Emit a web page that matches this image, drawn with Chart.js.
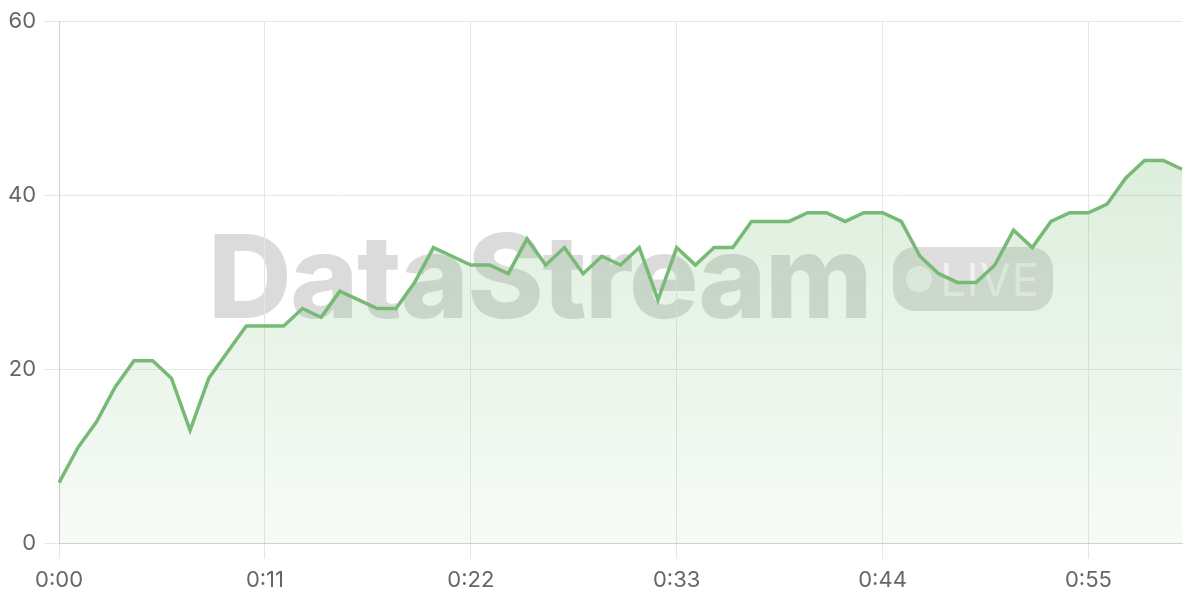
<!DOCTYPE html>
<html>
<head>
<meta charset="utf-8">
<script src="https://cdn.jsdelivr.net/npm/chart.js@4/dist/chart.umd.min.js"></script>
<style>
  html, body { margin: 0; padding: 0; background: #fff; }
  #wrap { position: relative; width: 1200px; height: 600px; }
  #mark { position: absolute; left: 208px; top: 218px; display: flex; align-items: center; pointer-events: none; }
  #mark .name { font-family: Inter, "Liberation Sans", sans-serif; font-weight: 800; font-size: 116px; letter-spacing: -1.5px; color: rgba(0,0,0,0.14); line-height: 116px; }
  #mark .pill { margin-left: 22px; width: 160px; height: 64px; border-radius: 22px; background: rgba(0,0,0,0.13); display: flex; align-items: center; box-sizing: border-box; padding-left: 13px; margin-top: 6px; }
  #mark .dot { width: 26px; height: 26px; border-radius: 50%; background: rgba(255,255,255,0.62); }
  #mark .live { font-family: Inter, "Liberation Sans", sans-serif; font-size: 45px; color: rgba(255,255,255,0.62); margin-left: 8px; letter-spacing: 1px; }
  canvas { position: absolute; left: 0; top: 0; }
</style>
</head>
<body>
<div id="wrap">
  <div id="mark"><span class="name">DataStream</span><span class="pill"><span class="dot"></span><span class="live">LIVE</span></span></div>
  <canvas id="chart" width="1200" height="600"></canvas>
</div>
<script>
const seconds = [];
for (let s = 0; s <= 60; s++) seconds.push('0:' + String(s).padStart(2, '0'));
const values = [
  7, 11, 14, 18, 21, 21, 19, 13, 19, 22,
  25, 25, 25, 27, 26, 29, 28, 27, 27, 30,
  34, 33, 32, 32, 31, 35, 32, 34, 31, 33,
  32, 34, 28, 34, 32, 34, 34, 37, 37, 37,
  38, 38, 37, 38, 38, 37, 33, 31, 30, 30,
  32, 36, 34, 37, 38, 38, 39, 42, 44, 44,
  43
];
const labelEvery = 11;

const ctx = document.getElementById('chart');
new Chart(ctx, {
    type: 'line',
    data: {
        labels: seconds,
        datasets: [{
            data: values,
            borderColor: 'rgb(118, 186, 118)',
            borderWidth: 3.5,
            pointRadius: 0,
            tension: 0,
            fill: true,
            backgroundColor: (c) => {
                const area = c.chart.chartArea;
                if (!area) return 'rgba(120,188,120,0.2)';
                const g = c.chart.ctx.createLinearGradient(0, area.top, 0, area.bottom);
                g.addColorStop(0, 'rgba(120,188,120,0.32)');
                g.addColorStop(1, 'rgba(120,188,120,0.06)');
                return g;
            }
        }]
    },
    options: {
        responsive: false,
        animation: false,
        layout: { padding: { top: 8, right: 18, left: 0, bottom: -3 } },
        plugins: { legend: { display: false }, tooltip: { enabled: false } },
        scales: {
            x: {
                grid: { color: '#e6e6e6', tickLength: 15 },
                border: { color: '#cfcfcf' },
                ticks: {
                    autoSkip: false,
                    maxRotation: 0,
                    color: '#666',
                    padding: 9,
                    font: { family: 'Inter, "Liberation Sans", sans-serif', size: 22 },
                    callback: function (v, i) { return i % labelEvery === 0 ? seconds[i] : null; }
                }
            },
            y: {
                min: 0,
                max: 60,
                grid: { color: '#e6e6e6', tickLength: 15 },
                border: { color: '#cfcfcf' },
                ticks: {
                    stepSize: 20,
                    color: '#666',
                    padding: 8,
                    font: { family: 'Inter, "Liberation Sans", sans-serif', size: 22 }
                }
            }
        }
    }
});
</script>
</body>
</html>
